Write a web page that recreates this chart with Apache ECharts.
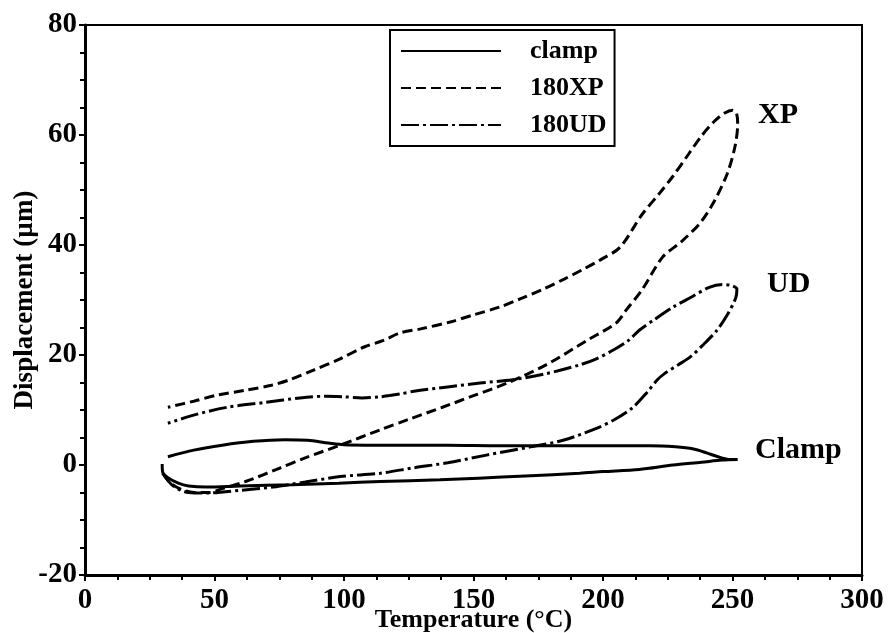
<!DOCTYPE html>
<html>
<head>
<meta charset="utf-8">
<script src="https://cdn.jsdelivr.net/npm/echarts@6/dist/echarts.min.js"></script>
<style>html,body{margin:0;padding:0;background:#fff;}#c{width:889px;height:633px;}</style>
</head>
<body>
<div id="c"></div>
<script>
// ---- data (Temperature °C, Displacement µm) ----
const seriesNames = ['clamp', '180XP', '180UD'];
const xTicks = [0, 50, 100, 150, 200, 250, 300];
const yTicks = [-20, 0, 20, 40, 60, 80];
const annotations = ['XP', 'UD', 'Clamp'];

const clampX = [32, 42, 53, 65, 77, 86, 94, 100, 120, 140, 160, 180, 200, 218, 228, 235, 240, 245, 249, 252,
  246, 238, 227, 214, 200, 191, 170, 152, 137, 114, 98, 80, 60, 47, 40, 36, 32, 30, 29.8];
const clampY = [1.5, 2.7, 3.6, 4.3, 4.6, 4.5, 4.0, 3.7, 3.6, 3.6, 3.5, 3.5, 3.5, 3.5, 3.3, 2.9, 2.2, 1.4, 1.0, 1.0,
  0.9, 0.5, 0.0, -0.8, -1.2, -1.5, -2.0, -2.4, -2.7, -3.0, -3.3, -3.6, -3.8, -4.0, -3.8, -3.3, -2.3, -1.3, 0.2];

const xpX = [30, 33, 37, 42, 48, 53, 62, 75, 85, 98.5, 114, 125, 138, 150, 163, 178, 194, 205, 209, 215, 223, 230, 237.5, 243, 248, 251, 252, 251.5, 250,
  247, 243, 238, 233, 227, 222, 215, 206.6, 199, 192, 185, 177, 168, 160, 150, 141, 130, 121.6, 115, 108, 98.5, 88, 79, 72, 62, 51, 42, 32];
const xpY = [-1.5, -3.3, -4.4, -5.0, -5.0, -4.3, -3.0, -0.6, 1.3, 3.6, 6.4, 8.3, 10.5, 12.6, 14.9, 18.2, 22.7, 25.8, 28.2, 31.8, 37.8, 40.5, 44.0, 48.0, 53.0, 58.0, 62.0, 64.0, 64.5,
  64.0, 62.5, 59.8, 56.5, 52.5, 49.5, 45.5, 39.6, 37.3, 35.5, 33.8, 32.0, 30.2, 28.7, 27.3, 26.0, 24.8, 24.0, 22.6, 21.5, 19.3, 17.2, 15.5, 14.5, 13.6, 12.7, 11.6, 10.5];

const udX = [30, 34, 40, 47, 60, 72.6, 85, 98.5, 114, 127, 140, 155, 172, 184.6, 197.7, 205, 211.6, 217, 221, 224, 229, 233.6, 239, 244, 248, 251.2, 251.7, 249, 246,
  241, 234, 227, 220, 214, 210, 204, 197, 191, 178, 165, 152.5, 140, 127, 121.6, 114, 107, 100, 93, 83, 70, 55, 43, 32];
const udY = [-1.5, -3.8, -5.0, -5.1, -4.6, -4.0, -3.1, -2.1, -1.5, -0.5, 0.4, 1.8, 3.3, 4.5, 6.7, 8.4, 10.5, 13.2, 15.5, 16.7, 18.2, 19.6, 22.0, 24.5, 27.3, 30.3, 32.0, 32.7, 32.8,
  32.3, 30.5, 28.7, 26.5, 24.5, 22.7, 20.9, 19.2, 18.2, 16.6, 15.5, 14.9, 14.2, 13.4, 12.9, 12.4, 12.2, 12.4, 12.5, 12.2, 11.4, 10.5, 9.2, 7.6];

function pairs(xs, ys) { return xs.map((x, i) => [x, ys[i]]); }

const FONT = '"Liberation Serif", "Times New Roman", serif';
const chart = echarts.init(document.getElementById('c'), null, { renderer: 'canvas' });

const lineStyles = [
  { color: '#000', width: 3, type: 'solid' },
  { color: '#000', width: 3, type: [10, 5] },
  { color: '#000', width: 3, type: [18, 4, 3, 4] }
];
const dataSets = [pairs(clampX, clampY), pairs(xpX, xpY), pairs(udX, udY)];

chart.setOption({
  animation: false,
  backgroundColor: '#fff',
  grid: { left: 85, right: 27, top: 25, bottom: 58, show: true, borderColor: '#000', borderWidth: 2, backgroundColor: 'transparent', containLabel: false, outerBoundsMode: 'none' },
  legend: {
    orient: 'vertical', left: 390, top: 30,
    data: seriesNames,
    borderColor: '#000', borderWidth: 2, padding: [8, 8, 8, 10],
    itemWidth: 100, itemHeight: 22, itemGap: 11,
    itemStyle: { opacity: 0 },
    textStyle: { fontFamily: FONT, fontWeight: 'bold', fontSize: 26, color: '#000', padding: [0, 0, 0, 24] }
  },
  xAxis: {
    type: 'value', min: xTicks[0], max: xTicks[xTicks.length - 1], interval: 50,
    name: 'Temperature (°C)', nameLocation: 'middle', nameGap: 32, nameMoveOverlap: false,
    nameTextStyle: { fontFamily: FONT, fontWeight: 'bold', fontSize: 26, color: '#000', verticalAlign: 'top' },
    axisLine: { onZero: false, lineStyle: { color: '#000', width: 3 } },
    axisTick: { length: 6, lineStyle: { width: 2, color: '#000' } },
    minorTick: { show: true, splitNumber: 4, length: 5, lineStyle: { width: 2, color: '#000' } },
    splitLine: { show: false },
    axisLabel: { fontFamily: FONT, fontWeight: 'bold', fontSize: 29, color: '#000', margin: 11 }
  },
  yAxis: {
    type: 'value', min: yTicks[0], max: yTicks[yTicks.length - 1], interval: 20,
    name: 'Displacement (µm)', nameLocation: 'middle', nameGap: 46, nameMoveOverlap: false,
    nameTextStyle: { fontFamily: FONT, fontWeight: 'bold', fontSize: 27, color: '#000' },
    axisLine: { onZero: false, lineStyle: { color: '#000', width: 3 } },
    axisTick: { length: 6, lineStyle: { width: 2, color: '#000' } },
    minorTick: { show: true, splitNumber: 4, length: 5, lineStyle: { width: 2, color: '#000' } },
    splitLine: { show: false },
    axisLabel: { fontFamily: FONT, fontWeight: 'bold', fontSize: 29, color: '#000', margin: 8 }
  },
  series: seriesNames.map((n, i) => ({
    name: n, type: 'line', data: dataSets[i], smooth: 0.3,
    symbol: 'none', showSymbol: false, color: '#000',
    lineStyle: lineStyles[i]
  })),
  graphic: [
    { type: 'text', left: 758, top: 100, style: { text: annotations[0], fontFamily: FONT, fontWeight: 'bold', fontSize: 30, fill: '#000' } },
    { type: 'text', left: 767, top: 269, style: { text: annotations[1], fontFamily: FONT, fontWeight: 'bold', fontSize: 30, fill: '#000' } },
    { type: 'text', left: 755, top: 435, style: { text: annotations[2], fontFamily: FONT, fontWeight: 'bold', fontSize: 30, fill: '#000' } }
  ]
});
</script>
</body>
</html>
